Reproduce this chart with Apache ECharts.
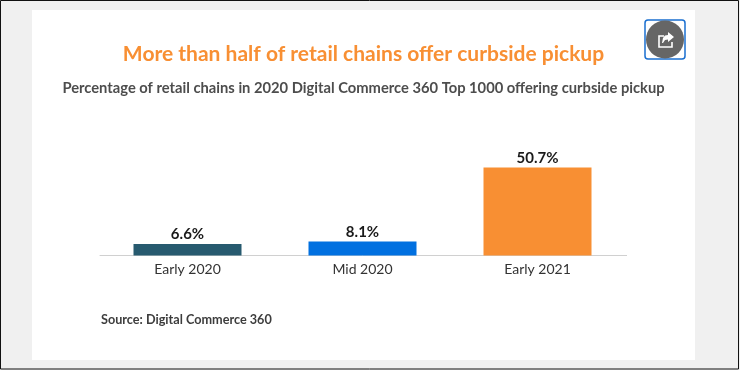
<!DOCTYPE html>
<html><head><meta charset="utf-8">
<style>html,body{margin:0;padding:0;background:#f0f0f0}#c{width:740px;height:370px}</style>
<script src="https://cdn.jsdelivr.net/npm/echarts@6/dist/echarts.min.js"></script>
</head><body><div id="c"></div>
<script>
const categories = ['Early 2020', 'Mid 2020', 'Early 2021'];
const values = [6.6, 8.1, 50.7];
const barColors = ['#275a6f', '#0170e0', '#f88f33'];
const titleText = 'More than half of retail chains offer curbside pickup';
const subtitleText = 'Percentage of retail chains in 2020 Digital Commerce 360 Top 1000 offering curbside pickup';
const sourceText = 'Source: Digital Commerce 360';
const font = 'Lato, "Open Sans", sans-serif';
const chart = echarts.init(document.getElementById('c'), null, {renderer: 'canvas'});
chart.setOption({
  animation: false,
  backgroundColor: '#f0f0f0',
  grid: {left: 100, width: 525, top: 151.5, height: 104},
  xAxis: {
    type: 'category', data: categories,
    axisTick: {show: false},
    axisLine: {lineStyle: {color: '#d0d0d0', width: 1}},
    axisLabel: {color: '#333333', fontFamily: font, fontSize: 14, margin: 7}
  },
  yAxis: {type: 'value', min: 0, max: 60, show: false, splitLine: {show: false}},
  series: [{
    type: 'bar', barWidth: 108,
    data: values.map((v, i) => ({value: v, itemStyle: {color: barColors[i]}})),
    label: {show: true, position: 'top', distance: 2, formatter: p => p.value.toFixed(1) + '%',
      color: '#1a1a1a', fontFamily: font, fontWeight: 'bold', fontSize: 15}
  }],
  graphic: [
    {type: 'rect', z: -10, silent: true, shape: {x: 32, y: 10, width: 663, height: 350}, style: {fill: '#ffffff'}},
    {type: 'rect', z: 100, silent: true, shape: {x: 0.5, y: 0.5, width: 738, height: 368.5}, style: {fill: 'none', stroke: '#111111', lineWidth: 1}},
    {type: 'line', z: 0, silent: true, shape: {x1: 625, y1: 255.5, x2: 627, y2: 255.5}, style: {stroke: '#d0d0d0', lineWidth: 1}},
    {type: 'text', z: 10, x: 363.5, y: 54, style: {text: titleText, fill: '#f88f33', font: 'bold 21px ' + font, align: 'center', verticalAlign: 'middle'}},
    {type: 'text', z: 10, x: 363.5, y: 88, style: {text: subtitleText, fill: '#4d4d4d', font: 'bold 14.72px ' + font, align: 'center', verticalAlign: 'middle'}},
    {type: 'text', z: 10, x: 101, y: 319.5, style: {text: sourceText, fill: '#3d3d3d', font: 'bold 12.67px ' + font, align: 'left', verticalAlign: 'middle'}},
    {type: 'rect', z: 10, shape: {x: 645, y: 20, width: 40, height: 39, r: 3}, style: {fill: 'none', stroke: '#1a6fd0', lineWidth: 1.5}},
    {type: 'circle', z: 11, shape: {cx: 665, cy: 39.5, r: 19}, style: {fill: '#666666'}},
    {type: 'polyline', z: 12, shape: {points: [[664, 36], [659, 36], [659, 47], [672, 47], [672, 42]]}, style: {fill: 'none', stroke: '#ffffff', lineWidth: 1.6}},
    {type: 'polygon', z: 12, shape: {points: [[668, 32], [674, 37], [668, 42], [668, 39.5], [665, 40], [663, 43], [662, 43], [663, 38], [665, 35.5], [668, 35]]}, style: {fill: '#ffffff'}}
  ]
});
</script></body></html>
